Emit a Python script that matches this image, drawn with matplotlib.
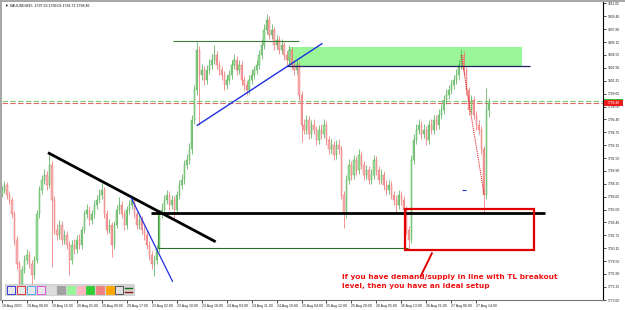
import matplotlib
matplotlib.use('Agg')
import matplotlib.pyplot as plt
from matplotlib.patches import Rectangle
import numpy as np

# ---------------- data ----------------
closes = [1787.5, 1788.1, 1786.9, 1786.2, 1784.4, 1781.2, 1778.1, 1775.5, 1777.4, 1778.7,
          1779.3, 1778.1, 1776.8, 1778.7, 1784.4, 1787.5, 1788.8, 1789.4, 1788.1, 1790.7,
          1786.2, 1782.5, 1781.8, 1783.1, 1781.2, 1781.8, 1780.6, 1778.7, 1780.6, 1780.0,
          1781.2, 1780.6, 1782.5, 1784.4, 1785.0, 1783.7, 1784.4, 1785.6, 1786.2, 1786.9,
          1787.5, 1784.4, 1782.5, 1783.1, 1780.6, 1783.1, 1785.0, 1785.6, 1784.4, 1783.1,
          1785.0, 1785.6, 1786.2, 1784.4, 1783.1, 1783.7, 1782.5, 1781.8, 1780.6, 1779.3,
          1778.1, 1778.7, 1780.0, 1784.4, 1785.0, 1786.2, 1786.9, 1785.6, 1786.2, 1785.0,
          1786.9, 1788.1, 1788.8, 1790.7, 1791.3, 1792.6, 1796.3, 1800.1, 1805.2, 1802.0,
          1802.6, 1801.4, 1802.6, 1803.3, 1803.9, 1804.5, 1803.3, 1802.6, 1802.0, 1800.7,
          1801.4, 1802.0, 1803.3, 1803.9, 1802.6, 1803.3, 1801.4, 1800.7, 1800.1, 1801.4,
          1802.0, 1802.6, 1803.3, 1804.5, 1805.8, 1807.7, 1809.0, 1807.1, 1807.7, 1805.8,
          1806.4, 1805.2, 1805.8, 1804.5, 1803.9, 1805.2, 1803.3, 1802.6, 1803.3, 1799.5,
          1795.7, 1795.1, 1796.3, 1794.5, 1795.7, 1795.1, 1793.8, 1795.1, 1794.5, 1795.7,
          1793.8, 1792.6, 1793.2, 1791.9, 1793.2, 1792.6, 1786.9, 1784.4, 1788.8, 1790.7,
          1789.4, 1791.3, 1790.0, 1791.9, 1790.7, 1789.4, 1790.0, 1788.8, 1789.4, 1791.3,
          1790.0, 1788.8, 1789.4, 1788.1, 1787.5, 1788.1, 1786.9, 1786.2, 1785.6, 1786.9,
          1786.2, 1785.0, 1782.5, 1781.2, 1791.3, 1793.8, 1795.1, 1795.7, 1794.5, 1795.1,
          1793.8, 1795.7, 1795.1, 1796.3, 1795.7, 1797.0, 1797.6, 1798.9, 1799.5, 1800.1,
          1800.7, 1801.4, 1802.0, 1803.3, 1804.5, 1802.6, 1800.1, 1797.6, 1798.9, 1797.0,
          1795.7, 1795.1, 1792.6, 1786.9, 1797.6, 1798.46]
highs = [1788.0, 1788.6, 1788.5, 1787.3, 1786.6, 1784.8, 1781.7, 1778.5, 1777.9, 1779.3,
         1780.0, 1779.8, 1778.6, 1779.2, 1785.0, 1788.0, 1789.4, 1790.1, 1789.9, 1792.2,
         1791.1, 1786.7, 1783.2, 1783.7, 1783.6, 1782.5, 1782.3, 1781.0, 1781.2, 1781.3,
         1781.8, 1781.9, 1783.0, 1785.0, 1785.7, 1785.5, 1785.0, 1786.2, 1786.8, 1787.6,
         1788.4, 1787.9, 1784.9, 1783.8, 1783.5, 1783.6, 1785.6, 1786.6, 1786.1, 1784.9,
         1785.5, 1786.2, 1786.7, 1786.6, 1784.9, 1784.3, 1784.2, 1783.0, 1782.3, 1781.1,
         1779.8, 1779.3, 1780.6, 1785.0, 1785.8, 1786.9, 1787.5, 1787.4, 1786.9, 1786.7,
         1787.4, 1788.7, 1789.5, 1791.3, 1792.0, 1793.4, 1797.0, 1800.8, 1806.2, 1805.7,
         1803.4, 1803.1, 1803.3, 1804.0, 1804.6, 1805.8, 1805.0, 1803.8, 1803.1, 1802.5,
         1802.0, 1802.6, 1803.9, 1804.6, 1804.4, 1803.9, 1803.8, 1801.9, 1801.2, 1802.0,
         1802.7, 1803.2, 1803.9, 1805.2, 1806.5, 1808.4, 1809.7, 1809.4, 1808.4, 1808.1,
         1807.1, 1806.9, 1806.5, 1806.2, 1805.0, 1805.8, 1805.6, 1803.8, 1803.9, 1803.7,
         1800.0, 1796.4, 1797.0, 1796.8, 1796.3, 1796.4, 1795.6, 1795.7, 1795.8, 1796.4,
         1796.2, 1794.3, 1793.9, 1793.7, 1793.8, 1793.9, 1793.1, 1787.4, 1789.4, 1791.4,
         1791.2, 1791.9, 1791.8, 1792.6, 1792.4, 1791.2, 1790.7, 1790.5, 1790.1, 1791.9,
         1791.8, 1790.5, 1790.1, 1789.9, 1788.7, 1788.8, 1788.6, 1787.4, 1786.8, 1787.5,
         1787.4, 1786.7, 1785.5, 1783.0, 1791.9, 1794.5, 1795.8, 1796.4, 1796.2, 1795.8,
         1795.6, 1796.3, 1796.4, 1797.0, 1796.9, 1797.7, 1798.3, 1799.5, 1800.2, 1800.8,
         1801.4, 1802.0, 1802.7, 1803.9, 1805.3, 1805.0, 1803.0, 1800.5, 1799.5, 1799.4,
         1797.5, 1796.3, 1795.6, 1793.1, 1800.4, 1799.06]
lows = [1786.6, 1787.1, 1786.4, 1785.7, 1783.9, 1780.6, 1777.5, 1774.7, 1775.0, 1777.0,
        1778.2, 1777.6, 1775.5, 1776.3, 1778.3, 1784.0, 1787.0, 1788.3, 1787.5, 1787.7,
        1777.8, 1781.9, 1781.2, 1781.3, 1780.6, 1780.7, 1780.0, 1776.8, 1778.2, 1779.4,
        1779.5, 1780.0, 1780.1, 1782.0, 1783.9, 1783.1, 1783.2, 1784.0, 1785.1, 1785.8,
        1786.4, 1783.9, 1781.9, 1782.0, 1779.0, 1780.1, 1782.7, 1784.5, 1783.9, 1782.5,
        1782.6, 1784.5, 1785.1, 1783.9, 1782.6, 1782.6, 1781.9, 1781.2, 1780.0, 1778.7,
        1777.5, 1776.6, 1778.2, 1779.6, 1783.9, 1784.5, 1785.7, 1785.0, 1785.1, 1784.0,
        1784.6, 1786.4, 1787.6, 1788.3, 1790.1, 1790.8, 1792.0, 1795.8, 1799.5, 1795.7,
        1801.4, 1800.8, 1800.9, 1802.1, 1802.8, 1803.4, 1802.7, 1802.0, 1801.4, 1800.1,
        1800.2, 1800.9, 1801.5, 1802.8, 1802.0, 1802.1, 1800.8, 1800.1, 1799.5, 1799.6,
        1800.9, 1801.5, 1802.1, 1802.8, 1804.0, 1805.3, 1807.2, 1806.5, 1806.6, 1805.2,
        1805.3, 1804.6, 1804.7, 1803.9, 1803.3, 1803.4, 1802.7, 1802.0, 1802.1, 1798.9,
        1793.6, 1794.5, 1794.6, 1793.9, 1794.0, 1794.5, 1793.2, 1793.3, 1793.9, 1794.0,
        1793.2, 1792.0, 1792.1, 1791.3, 1791.4, 1792.0, 1786.3, 1782.7, 1783.9, 1788.3,
        1788.8, 1788.9, 1789.4, 1789.5, 1790.1, 1788.8, 1788.9, 1788.2, 1788.3, 1788.9,
        1789.4, 1788.2, 1788.3, 1787.5, 1786.9, 1787.0, 1786.3, 1785.6, 1784.4, 1785.1,
        1785.6, 1784.4, 1781.9, 1780.1, 1780.8, 1790.8, 1793.3, 1794.6, 1793.9, 1794.0,
        1793.2, 1793.3, 1794.5, 1794.6, 1795.1, 1795.2, 1796.5, 1797.1, 1798.4, 1799.0,
        1799.6, 1800.2, 1800.9, 1801.5, 1802.8, 1802.0, 1799.5, 1797.0, 1797.1, 1796.4,
        1795.1, 1794.5, 1792.0, 1784.4, 1786.4, 1796.72]
first_open = 1787.0

time_labels = ["18 Aug 2021", "19 Aug 08:00", "19 Aug 16:00", "20 Aug 01:00", "20 Aug 09:00",
               "20 Aug 17:00", "23 Aug 02:00", "23 Aug 10:00", "23 Aug 18:00", "24 Aug 03:00",
               "24 Aug 11:00", "24 Aug 19:00", "25 Aug 04:00", "25 Aug 12:00", "25 Aug 20:00",
               "26 Aug 05:00", "26 Aug 13:00", "26 Aug 21:00", "27 Aug 06:00", "27 Aug 14:00"]
bars_per_label = 10
price_ticks = [1811.05, 1809.40, 1807.80, 1806.15, 1804.55, 1802.90, 1801.25, 1799.65,
               1798.00, 1796.40, 1794.75, 1793.15, 1791.50, 1789.90, 1788.25, 1786.65,
               1785.00, 1783.40, 1781.75, 1780.15, 1778.50, 1776.90, 1775.25, 1773.60]
bid = 1798.46
ask = 1798.70
header = "\u25BC XAUUSD,M15  1797.23 1799.06 1796.72 1798.46"

# drawn objects (bar index, price)
tl_black = [(18.4, 1792.2), (85.6, 1780.95)]
hl_black = [(59.6, 1784.6), (217.6, 1784.6)]
tl_blue1 = [(51.6, 1786.6), (68.4, 1775.9)]
tl_blue2 = [(78.0, 1795.6), (128.4, 1806.0)]
hl_top = [(68.4, 1806.3), (118.8, 1806.3)]
supply_zone = (114.8, 208.4, 1803.1, 1805.5)
supply_line = [(113.6, 1803.15), (211.6, 1803.15)]
green_v = [(62.4, 1785.0), (62.4, 1780.2)]
green_h = [(62.4, 1780.2), (162.8, 1780.2)]
red_box = (161.6, 213.2, 1779.95, 1785.1)
red_pointer = [(172.4, 1779.6), (167.6, 1776.5)]
red_dotted = [(184.0, 1804.5), (193.2, 1786.9)]
blue_dash = [(184.4, 1787.5), (186.0, 1787.5)]
note_pos = (136.4, 1775.9)
note_text = "If you have demand/supply in line with TL breakout\nlevel, then you have an ideal setup"

# ---------------- figure ----------------
W, H = 625, 310
fig = plt.figure(figsize=(W / 100, H / 100), dpi=100)
fig.patch.set_facecolor('white')
ax = fig.add_axes([2 / W, 10 / H, 601 / W, 298 / H])
ax.set_facecolor('white')
ax.set_xlim(0.4, 240.8)
ax.set_ylim(1773.64, 1811.22)

opens = [first_open] + closes[:-1]
for i, (o, c, hi, lo) in enumerate(zip(opens, closes, highs, lows)):
    bull = c >= o
    edge = '#4aa84a' if bull else '#ec6a6a'
    fill = '#9be09b' if bull else '#f7b4b4'
    ax.vlines(i, lo, hi, color=edge, lw=0.5, zorder=2)
    ax.add_patch(Rectangle((i - 0.25, min(o, c)), 0.5, max(abs(c - o), 0.05),
                           facecolor=fill, edgecolor=edge, lw=0.3, zorder=3))

# price lines
ax.axhline(ask, color='#7fcf7f', lw=0.8, ls=(0, (5, 2)), zorder=1)
ax.axhline(bid, color='#e06a6a', lw=0.8, ls=(0, (5, 2)), zorder=1)

def seg(pts, **kw):
    xs, ys = zip(*pts)
    ax.plot(xs, ys, solid_capstyle='butt', **kw)

# supply zone
x0, x1, y0, y1 = supply_zone
ax.add_patch(Rectangle((x0, y0), x1 - x0, y1 - y0, facecolor='#98f598', edgecolor='none', zorder=1))
seg(supply_line, color='#202060', lw=0.9, zorder=4)
seg(hl_top, color='#3c7d3c', lw=0.8, zorder=4)
seg(green_v, color='#3c9d3c', lw=0.8, zorder=4)
seg(green_h, color='#2e6e2e', lw=0.8, zorder=4)
seg(tl_black, color='black', lw=2.0, zorder=5)
seg(hl_black, color='black', lw=2.0, zorder=5)
seg(tl_blue1, color='#2030e0', lw=0.9, zorder=5)
seg(tl_blue2, color='#2030e0', lw=1.0, zorder=5)
seg(blue_dash, color='#2030e0', lw=0.8, zorder=5)
x0, x1, y0, y1 = red_box
ax.add_patch(Rectangle((x0, y0), x1 - x0, y1 - y0, facecolor='none', edgecolor='#e00000', lw=1.6, zorder=5))
seg(red_pointer, color='#e00000', lw=1.4, zorder=5)
seg(red_dotted, color='#e00000', lw=0.7, ls=(0, (1, 1)), zorder=5)
ax.text(note_pos[0], note_pos[1], note_text, color='#ee1111', fontsize=5.3, fontweight='bold',
        ha='left', va='center', linespacing=1.55, zorder=6)

# axes styling
for s in ['left', 'top']:
    ax.spines[s].set_visible(False)
ax.spines['right'].set_color('black')
ax.spines['right'].set_linewidth(0.8)
ax.spines['bottom'].set_color('#777777')
ax.spines['bottom'].set_linewidth(0.8)
ax.yaxis.tick_right()
ax.set_yticks(price_ticks)
ax.set_yticklabels([f"{p:.2f}" for p in price_ticks], fontsize=2.4, color='#222222',
                   family='Liberation Sans')
ax.tick_params(axis='y', direction='out', length=2, width=0.5, pad=1.5)
ax.set_xticks([k * bars_per_label for k in range(len(time_labels))])
ax.set_xticklabels(time_labels, fontsize=2.5, color='#222222', ha='left', family='Liberation Sans')
ax.tick_params(axis='x', direction='out', length=2, width=0.5, pad=1.2)

# overlay in pixel coordinates for terminal decorations
ov = fig.add_axes([0, 0, 1, 1], zorder=10)
ov.set_xlim(0, W)
ov.set_ylim(H, 0)
ov.axis('off')
ov.patch.set_alpha(0)
ov.add_patch(Rectangle((0, 0), W, 2, facecolor='#a8a8a8', edgecolor='none'))
ov.add_patch(Rectangle((0, 0), 2, 301, facecolor='#a8a8a8', edgecolor='none'))
ov.text(5, 5.5, header, fontsize=2.6, color='black', ha='left', va='center', family='Liberation Sans')

fig.canvas.draw()
for price, col in [(ask, '#2ec02e'), (bid, '#ee1c1c')]:
    yp = H - ax.transData.transform((0, price))[1]
    ov.add_patch(Rectangle((604, yp - 2.6), 19, 5.2, facecolor=col, edgecolor='none'))
yp = H - ax.transData.transform((0, bid))[1]
ov.text(613.5, yp, f"{bid:.2f}", fontsize=2.4, color='white', ha='center', va='center',
        family='Liberation Sans')

# toolbar
ov.add_patch(Rectangle((5, 284), 129, 11, facecolor='#d4d4d4', edgecolor='#c0c0c0', lw=0.4))
boxes = [('#e8e8e8', '#2020e0'), ('#e8e8e8', '#e02020'), ('#e8e8e8', '#40a0f0'),
         ('#e8e8e8', '#e040e0'), ('#dcdcdc', '#dcdcdc'), ('#a0a0a0', '#a0a0a0'),
         ('#98f598', '#98f598'), ('#ffb6c1', '#ffb6c1'), ('#32cd32', '#32cd32'),
         ('#f08080', '#f08080'), ('#ffa500', '#ffa500'), ('#e0e0e0', '#404040')]
bx = [7, 17, 27, 37, 47, 57, 67, 77, 86, 96, 106, 115]
for (fc, ec), x in zip(boxes, bx):
    ov.add_patch(Rectangle((x, 286), 8, 8, facecolor=fc, edgecolor=ec, lw=0.6))
ov.plot([125, 132], [287.5, 287.5], color='#1a6b1a', lw=1.0)
ov.plot([125, 132], [292, 292], color='#8b1a1a', lw=1.0)

fig.savefig('out.png', dpi=100)
